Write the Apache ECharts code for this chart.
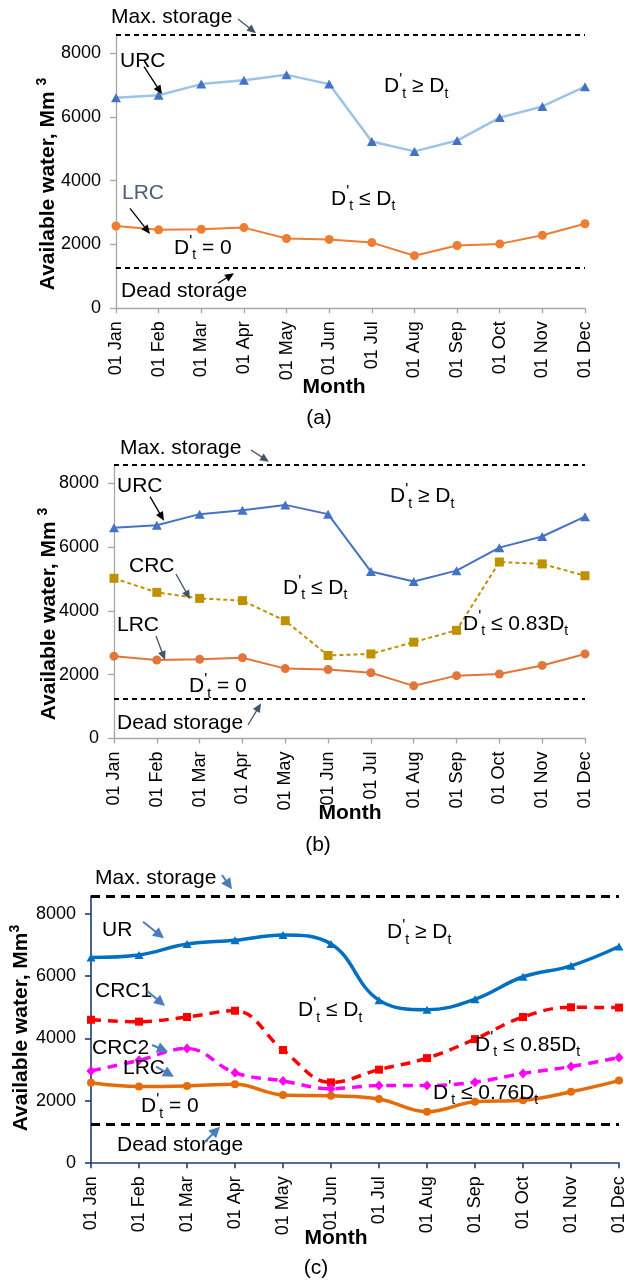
<!DOCTYPE html>
<html>
<head>
<meta charset="utf-8">
<script src="https://cdn.jsdelivr.net/npm/echarts@6/dist/echarts.min.js"></script>
<style>
  html, body { margin: 0; padding: 0; background: #fff; }
  #chart { width: 628px; height: 1284px; }
</style>
</head>
<body>
<div id="chart"></div>
<script>
// Monthly available water (Mm3) for the reservoir rule curves
const months = ['01 Jan', '01 Feb', '01 Mar', '01 Apr', '01 May', '01 Jun',
                '01 Jul', '01 Aug', '01 Sep', '01 Oct', '01 Nov', '01 Dec'];
const urc  = [6600, 6680, 7030, 7150, 7320, 7030, 5230, 4920, 5260, 5980, 6330, 6950];
const lrc  = [2580, 2460, 2480, 2530, 2190, 2160, 2060, 1650, 1970, 2020, 2290, 2650];
const crc  = [5020, 4580, 4390, 4320, 3690, 2600, 2650, 3020, 3390, 5530, 5470, 5100];
const crc1 = [4600, 4540, 4690, 4890, 3630, 2590, 3000, 3370, 3980, 4690, 5000, 4990];
const crc2 = [2960, 3300, 3680, 2900, 2640, 2390, 2490, 2490, 2600, 2880, 3100, 3390];
const maxStorage = 8570;
const deadStorage = 1260;
const yTicks = [0, 2000, 4000, 6000, 8000];

const FONT = '"Liberation Sans", Arial, Helvetica, sans-serif';

const grids = [
  { left: 116, top: 35,  width: 469, height: 273.3 },
  { left: 114, top: 465, width: 471, height: 273.5 },
  { left: 91,  top: 896, width: 528, height: 267.2 }
];
const axisColors = ['#A6A6A6', '#A6A6A6', '#1F3B73'];

function xAxisFor(i) {
  return {
    type: 'category', gridIndex: i, data: months, boundaryGap: false,
    axisLine: { show: true, lineStyle: { color: axisColors[i], width: i === 2 ? 1.6 : 1.3 } },
    axisTick: { show: true, length: 5, alignWithLabel: true, interval: 0,
                lineStyle: { color: axisColors[i], width: i === 2 ? 1.6 : 1.3 } },
    axisLabel: { rotate: 90, interval: 0, fontSize: 18, color: '#000', fontFamily: FONT, margin: 13 },
    splitLine: { show: false }
  };
}
function yAxisFor(i) {
  return {
    type: 'value', gridIndex: i, min: 0, max: maxStorage, interval: 2000,
    axisLine: { show: true, lineStyle: { color: axisColors[i], width: i === 2 ? 1.6 : 1.3 } },
    axisTick: { show: true, length: 6, customValues: yTicks,
                lineStyle: { color: axisColors[i], width: i === 2 ? 1.6 : 1.3 } },
    axisLabel: { fontSize: 18, color: '#000', fontFamily: FONT, margin: 15, customValues: yTicks,
                 formatter: v => String(v) },
    splitLine: { show: false }
  };
}

function storageLines(i) {
  const thick = i === 2;
  return {
    silent: true, symbol: 'none', label: { show: false },
    lineStyle: { color: '#000', width: thick ? 3 : 2, type: thick ? [9, 6] : [5, 4] },
    emphasis: { disabled: true },
    data: [{ yAxis: maxStorage }, { yAxis: deadStorage }]
  };
}

function curve(i, name, data, o) {
  const s = {
    name, type: 'line', xAxisIndex: i, yAxisIndex: i, data,
    smooth: o.smooth || false,
    symbol: o.symbol, symbolSize: o.size, showAllSymbol: true,
    lineStyle: { color: o.line, width: o.width, type: o.dash || 'solid' },
    itemStyle: { color: o.marker || o.line },
    emphasis: { disabled: true },
    z: o.z || 2
  };
  if (o.storage) s.markLine = storageLines(i);
  return s;
}

const series = [
  // (a)
  curve(0, 'URC', urc, { line: '#9DC3E6', marker: '#4472C4', width: 2.5, symbol: 'triangle', size: [10, 9] }),
  curve(0, 'LRC', lrc, { line: '#ED7D31', width: 2, symbol: 'circle', size: 9, storage: true }),
  // (b)
  curve(1, 'URC', urc, { line: '#4472C4', width: 2, symbol: 'triangle', size: [10, 9] }),
  curve(1, 'CRC', crc, { line: '#BF9000', width: 2, dash: [4, 3], symbol: 'rect', size: 9 }),
  curve(1, 'LRC', lrc, { line: '#E2763A', width: 2, symbol: 'circle', size: 9, storage: true }),
  // (c)
  curve(2, 'URC', urc, { line: '#0070C0', width: 3.5, symbol: 'triangle', size: [9, 8], smooth: 0.4 }),
  curve(2, 'CRC1', crc1, { line: '#FF0000', width: 3.5, dash: [10, 7], symbol: 'rect', size: 8, smooth: 0.4 }),
  curve(2, 'CRC2', crc2, { line: '#FF00FF', width: 3.5, dash: [10, 7], symbol: 'diamond', size: [9, 10], smooth: 0.4 }),
  curve(2, 'LRC', lrc, { line: '#E46C0A', width: 3.5, symbol: 'circle', size: 8, smooth: 0.4, storage: true, z: 3 })
];

// ---- annotations ----
const richD = {
  m: { fontSize: 21, lineHeight: 28, fontFamily: FONT, fill: '#000' },
  p: { fontSize: 16, lineHeight: 24, verticalAlign: 'top', fontFamily: FONT, fill: '#000' },
  s: { fontSize: 14, lineHeight: 14, verticalAlign: 'bottom', fontFamily: FONT, fill: '#000' }
};
function txt(x, y, text, color) {
  return { type: 'text', x, y, z: 100, silent: true,
    style: { text, fill: color || '#000', fontSize: 21, fontFamily: FONT, align: 'left', verticalAlign: 'middle' } };
}
function dtxt(x, y, rest, tail) {
  let t = '{m|D}{p|\'}{s|t}{m|' + rest + '}';
  if (tail) t += '{s|t}';
  return { type: 'text', x, y, z: 100, silent: true,
    style: { text: t, rich: richD, fontSize: 21, fontFamily: FONT, align: 'left', verticalAlign: 'middle' } };
}
function arrow(x1, y1, x2, y2, color, w) {
  const lw = w || 1.3;
  const hl = lw > 1.5 ? 11 : 9, hw = lw > 1.5 ? 5.5 : 4;
  const dx = x2 - x1, dy = y2 - y1, L = Math.hypot(dx, dy);
  const ux = dx / L, uy = dy / L;
  const bx = x2 - ux * hl, by = y2 - uy * hl;
  return [
    { type: 'line', z: 100, silent: true, shape: { x1, y1, x2: bx + ux * 2, y2: by + uy * 2 },
      style: { stroke: color, lineWidth: lw } },
    { type: 'polygon', z: 100, silent: true,
      shape: { points: [[x2, y2], [bx - uy * hw, by + ux * hw], [bx + uy * hw, by - ux * hw]] },
      style: { fill: color } }
  ];
}
function vtitle(x, y, text) {
  return { type: 'text', x, y, rotation: Math.PI / 2, z: 100, silent: true,
    style: { text, align: 'center', verticalAlign: 'middle',
      rich: {
        b: { fontSize: 21, fontWeight: 'bold', fontFamily: FONT, fill: '#000', lineHeight: 26 },
        u: { fontSize: 14, fontWeight: 'bold', fontFamily: FONT, fill: '#000', lineHeight: 16, verticalAlign: 'top' }
      } } };
}
function bold(x, y, text) {
  return { type: 'text', x, y, z: 100, silent: true,
    style: { text, fill: '#000', fontSize: 21, fontWeight: 'bold', fontFamily: FONT, align: 'center', verticalAlign: 'middle' } };
}
function cap(x, y, text) {
  return { type: 'text', x, y, z: 100, silent: true,
    style: { text, fill: '#000', fontSize: 21, fontFamily: FONT, align: 'center', verticalAlign: 'middle' } };
}

const SLATE = '#44546A', BLUE = '#4A7EBB', BLACK = '#000';

const graphic = [
  // (a)
  txt(111, 17.3, 'Max. storage'),
  ...arrow(238, 19, 256, 33.3, SLATE),
  txt(120, 61.7, 'URC'),
  ...arrow(144, 66.7, 162, 94.3, BLACK),
  txt(122, 193.3, 'LRC', '#4E5D78'),
  ...arrow(130, 208.3, 150, 234, BLACK),
  dtxt(384, 86.7, ' ≥ D', true),
  dtxt(331, 199, ' ≤ D', true),
  dtxt(174, 248.3, ' = 0'),
  txt(121, 291.7, 'Dead storage'),
  ...arrow(218, 283.3, 234, 273.3, BLACK),
  vtitle(48.5, 184, '{b|Available water, Mm }{u|3}'),
  bold(334, 387.3, 'Month'),
  cap(319, 418.3, '(a)'),

  // (b)
  txt(120, 448.3, 'Max. storage'),
  ...arrow(251, 450, 269, 461.7, SLATE),
  txt(117, 486.7, 'URC'),
  ...arrow(150, 496.7, 164, 520.7, BLACK),
  dtxt(390, 496.7, ' ≥ D', true),
  txt(129, 566.7, 'CRC'),
  ...arrow(176, 574, 190, 599.3, SLATE),
  dtxt(283, 588.3, ' ≤ D', true),
  txt(117, 625, 'LRC'),
  ...arrow(156, 636, 165, 660, SLATE),
  dtxt(463, 624, ' ≤ 0.83D', true),
  dtxt(189, 686.7, ' = 0'),
  txt(117, 723.3, 'Dead storage'),
  ...arrow(248, 725, 261, 703.3, SLATE),
  vtitle(49, 614, '{b|Available water, Mm }{u|3}'),
  bold(350, 813.3, 'Month'),
  cap(318, 845, '(b)'),

  // (c)
  txt(95, 878.3, 'Max. storage'),
  ...arrow(222, 875, 232, 889.3, BLUE, 2),
  txt(102, 930, 'UR'),
  ...arrow(143, 921.7, 164, 938.3, BLUE, 2),
  dtxt(387, 932.7, ' ≥ D', true),
  txt(95, 991, 'CRC1'),
  ...arrow(147, 990.7, 165, 1006, BLUE, 2),
  dtxt(298, 1010.7, ' ≤ D', true),
  txt(92, 1048.3, 'CRC2'),
  ...arrow(152, 1045, 168, 1051.7, BLUE, 2),
  txt(123, 1068.3, 'LRC'),
  ...arrow(156, 1066.7, 174, 1076.7, BLUE, 2),
  dtxt(475, 1045, ' ≤ 0.85D', true),
  dtxt(433, 1093.3, ' ≤ 0.76D', true),
  dtxt(141, 1106.7, ' = 0'),
  txt(117, 1145, 'Dead storage'),
  ...arrow(205, 1141.7, 220, 1126.7, BLUE, 2),
  vtitle(21, 1028, '{b|Available water, Mm}{u|3}'),
  bold(336, 1238.3, 'Month'),
  cap(316, 1268.3, '(c)')
];

const chart = echarts.init(document.getElementById('chart'), null, { renderer: 'canvas' });
chart.setOption({
  animation: false,
  backgroundColor: '#fff',
  textStyle: { fontFamily: FONT },
  grid: grids,
  xAxis: [0, 1, 2].map(xAxisFor),
  yAxis: [0, 1, 2].map(yAxisFor),
  series,
  graphic
});
</script>
</body>
</html>
